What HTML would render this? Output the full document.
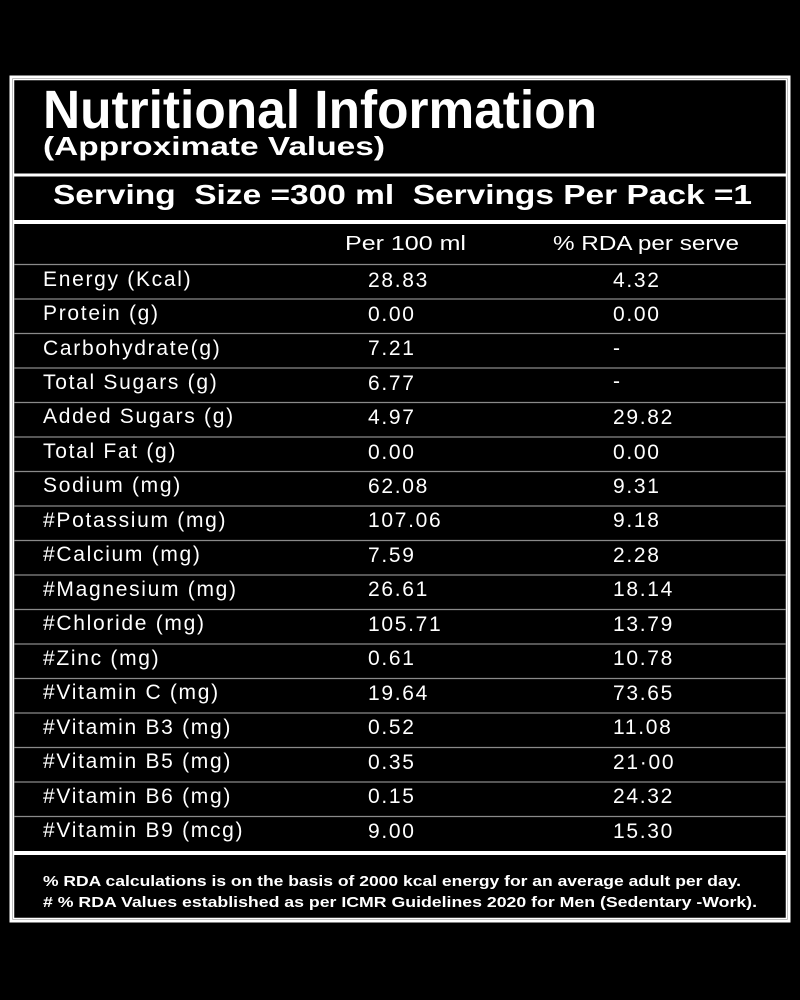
<!DOCTYPE html>
<html><head><meta charset="utf-8"><style>
html,body{margin:0;padding:0;background:#000;}
svg{display:block}
text{font-family:"Liberation Sans",sans-serif;fill:#fff}
.r text{letter-spacing:1.7px}
</style></head><body>
<svg width="800" height="1000" viewBox="0 0 800 1000" xmlns="http://www.w3.org/2000/svg">
<rect width="800" height="1000" fill="#000"/>
<rect x="11" y="77" width="778" height="844" fill="none" stroke="#fff" stroke-width="3"/>
<rect x="13.5" y="79.5" width="773" height="839" fill="none" stroke="#fff" stroke-width="1.5"/>
<rect x="13" y="173.5" width="774" height="3" fill="#fff"/>
<rect x="13" y="220" width="774" height="4" fill="#fff"/>
<rect x="13" y="851" width="774" height="4" fill="#fff"/>
<text x="43" y="128" font-size="54" font-weight="bold" textLength="554" lengthAdjust="spacingAndGlyphs">Nutritional Information</text>
<text x="43" y="155" font-size="26" font-weight="bold" textLength="342" lengthAdjust="spacingAndGlyphs">(Approximate Values)</text>
<text x="53" y="204" font-size="28" font-weight="bold" textLength="699" lengthAdjust="spacingAndGlyphs" xml:space="preserve">Serving  Size =300 ml  Servings Per Pack =1</text>
<text x="345" y="250" font-size="20" textLength="121" lengthAdjust="spacingAndGlyphs">Per 100 ml</text>
<text x="553" y="250" font-size="20" textLength="186" lengthAdjust="spacingAndGlyphs">% RDA per serve</text>
<g stroke="#8a8a8a" stroke-width="1.3">
<line x1="14" x2="786" y1="264.5" y2="264.5"/>
<line x1="14" x2="786" y1="299" y2="299"/>
<line x1="14" x2="786" y1="333.5" y2="333.5"/>
<line x1="14" x2="786" y1="368" y2="368"/>
<line x1="14" x2="786" y1="402.5" y2="402.5"/>
<line x1="14" x2="786" y1="437" y2="437"/>
<line x1="14" x2="786" y1="471.5" y2="471.5"/>
<line x1="14" x2="786" y1="506" y2="506"/>
<line x1="14" x2="786" y1="540.5" y2="540.5"/>
<line x1="14" x2="786" y1="575" y2="575"/>
<line x1="14" x2="786" y1="609.5" y2="609.5"/>
<line x1="14" x2="786" y1="644" y2="644"/>
<line x1="14" x2="786" y1="678.5" y2="678.5"/>
<line x1="14" x2="786" y1="713" y2="713"/>
<line x1="14" x2="786" y1="747.5" y2="747.5"/>
<line x1="14" x2="786" y1="782" y2="782"/>
<line x1="14" x2="786" y1="816.5" y2="816.5"/>
</g>
<g font-size="21" class="r">
<text x="43" y="286">Energy (Kcal)</text><text x="368" y="287">28.83</text><text x="613" y="287">4.32</text>
<text x="43" y="320">Protein (g)</text><text x="368" y="321">0.00</text><text x="613" y="321">0.00</text>
<text x="43" y="355">Carbohydrate(g)</text><text x="368" y="355">7.21</text><text x="613" y="355">-</text>
<text x="43" y="389">Total Sugars (g)</text><text x="368" y="390">6.77</text><text x="613" y="388">-</text>
<text x="43" y="423">Added Sugars (g)</text><text x="368" y="424">4.97</text><text x="613" y="424">29.82</text>
<text x="43" y="458">Total Fat (g)</text><text x="368" y="459">0.00</text><text x="613" y="459">0.00</text>
<text x="43" y="492">Sodium (mg)</text><text x="368" y="493">62.08</text><text x="613" y="493">9.31</text>
<text x="43" y="527">#Potassium (mg)</text><text x="368" y="527">107.06</text><text x="613" y="527">9.18</text>
<text x="43" y="561">#Calcium (mg)</text><text x="368" y="562">7.59</text><text x="613" y="562">2.28</text>
<text x="43" y="596">#Magnesium (mg)</text><text x="368" y="596">26.61</text><text x="613" y="596">18.14</text>
<text x="43" y="630">#Chloride (mg)</text><text x="368" y="631">105.71</text><text x="613" y="631">13.79</text>
<text x="43" y="665">#Zinc (mg)</text><text x="368" y="665">0.61</text><text x="613" y="665">10.78</text>
<text x="43" y="699">#Vitamin C (mg)</text><text x="368" y="700">19.64</text><text x="613" y="700">73.65</text>
<text x="43" y="734">#Vitamin B3 (mg)</text><text x="368" y="734">0.52</text><text x="613" y="734">11.08</text>
<text x="43" y="768">#Vitamin B5 (mg)</text><text x="368" y="769">0.35</text><text x="613" y="769">21·00</text>
<text x="43" y="803">#Vitamin B6 (mg)</text><text x="368" y="803">0.15</text><text x="613" y="803">24.32</text>
<text x="43" y="837">#Vitamin B9 (mcg)</text><text x="368" y="838">9.00</text><text x="613" y="838">15.30</text>
</g>
<text x="43" y="886" font-size="15" font-weight="bold" textLength="698" lengthAdjust="spacingAndGlyphs">% RDA calculations is on the basis of 2000 kcal energy for an average adult per day.</text>
<text x="43" y="907" font-size="15" font-weight="bold" textLength="714" lengthAdjust="spacingAndGlyphs"># % RDA Values established as per ICMR Guidelines 2020 for Men (Sedentary -Work).</text>
</svg>
</body></html>
